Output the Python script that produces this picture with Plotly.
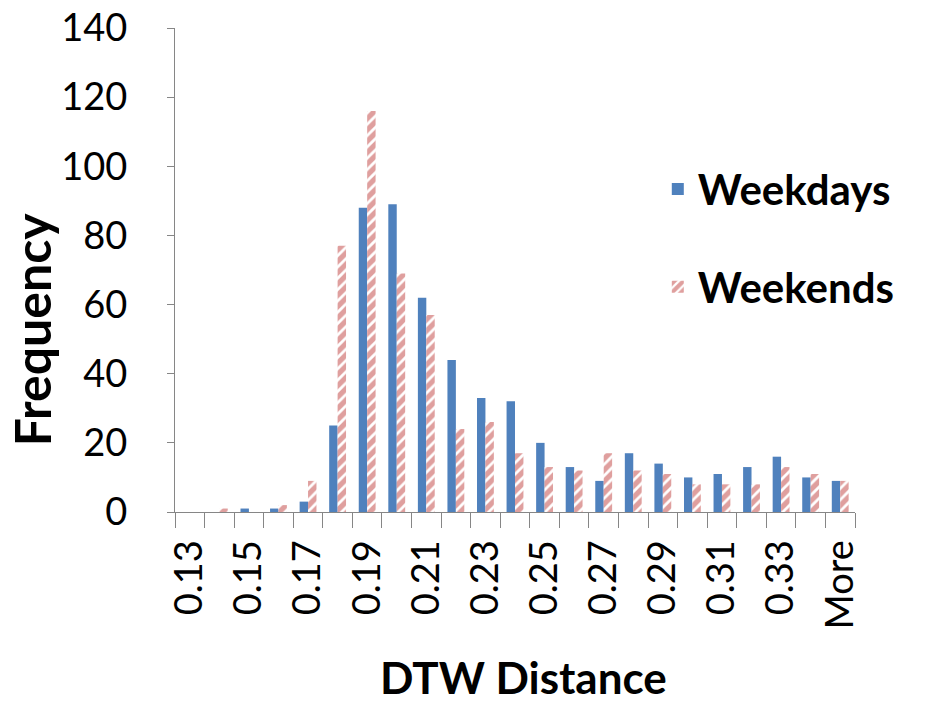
import plotly.graph_objects as go

categories = ["0.13", "0.14", "0.15", "0.16", "0.17", "0.18", "0.19", "0.20", "0.21", "0.22",
              "0.23", "0.24", "0.25", "0.26", "0.27", "0.28", "0.29", "0.30", "0.31", "0.32",
              "0.33", "0.34", "More"]
weekdays = [0, 0, 1, 1, 3, 25, 88, 89, 62, 44, 33, 32, 20, 13, 9, 17, 14, 10, 11, 13, 16, 10, 9]
weekends = [0, 1, 0, 2, 9, 77, 116, 69, 57, 24, 26, 17, 13, 12, 17, 12, 11, 8, 8, 8, 13, 11, 9]
tick_labels = [c if i % 2 == 0 or c == "More" else "" for i, c in enumerate(categories)]
y_ticks = [0, 20, 40, 60, 80, 100, 120, 140]

FONT = "Lato"
AXIS_GRAY = "#868686"

fig = go.Figure()
fig.add_trace(go.Bar(
    x=categories, y=weekdays, name="Weekdays", legendgroup="a",
    marker=dict(color="#4F81BD", line=dict(width=0)),
))
fig.add_trace(go.Bar(
    x=categories, y=weekends, name="Weekends", legendgroup="b",
    marker=dict(color="white",
                line=dict(width=0),
                pattern=dict(shape="/", fgcolor="#C0403D", bgcolor="white",
                             size=8, solidity=0.65, fillmode="overlay")),
))

fig.update_layout(
    width=943, height=704,
    margin=dict(l=175, r=88, t=28, b=192, autoexpand=False),
    paper_bgcolor="white", plot_bgcolor="white",
    barmode="group", bargap=0.43, bargroupgap=0,
    font=dict(family=FONT, color="black"),
    showlegend=True,
    legend=dict(
        x=0.71, y=0.737, xanchor="left", yanchor="top",
        font=dict(family=FONT, size=42, color="black", weight="bold"),
        traceorder="grouped", tracegroupgap=40,
        bgcolor="rgba(0,0,0,0)", itemwidth=30,
    ),
    xaxis=dict(
        type="category",
        tickmode="array", tickvals=categories, ticktext=tick_labels,
        tickson="boundaries", ticks="outside", ticklen=15, tickcolor=AXIS_GRAY, tickwidth=1,
        showline=True, linecolor=AXIS_GRAY, linewidth=1,
        showgrid=False, zeroline=False,
        tickangle=-90, tickfont=dict(family=FONT, size=38, color="black"),
        ticklabelstandoff=12, ticklabeloverflow="allow",
        automargin=False,
    ),
    yaxis=dict(
        range=[0, 140], tickmode="array", tickvals=y_ticks,
        ticks="outside", ticklen=7, tickcolor=AXIS_GRAY, tickwidth=1,
        showline=True, linecolor=AXIS_GRAY, linewidth=1,
        showgrid=False, zeroline=False,
        tickfont=dict(family=FONT, size=38, color="black"),
        ticklabelstandoff=32, ticklabeloverflow="allow",
        automargin=False,
    ),
    annotations=[
        dict(text="<b>DTW Distance</b>", xref="paper", yref="paper", x=0.513, y=-0.341,
             xanchor="center", yanchor="middle", showarrow=False,
             font=dict(family=FONT, size=44, color="black")),
        dict(text="<b>Frequency</b>", xref="paper", yref="paper", x=-0.21, y=0.376,
             xanchor="center", yanchor="middle", showarrow=False, textangle=-90,
             font=dict(family=FONT, size=50, color="black")),
    ],
)

fig.write_html("out.html", config={"displayModeBar": False},
               post_script="document.body.style.margin='0';")
